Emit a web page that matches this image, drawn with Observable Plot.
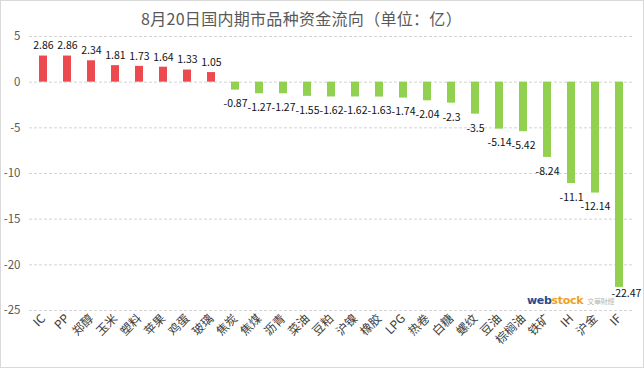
<!DOCTYPE html>
<html>
<head>
<meta charset="utf-8">
<script src="https://cdn.jsdelivr.net/npm/d3@7"></script>
<script src="https://cdn.jsdelivr.net/npm/@observablehq/plot@0.6"></script>
<style>
  body { margin: 0; background: #fff; }
  #wrap { position: relative; width: 642px; height: 366px; border: 1px solid #d9d9d9; background: #fff; overflow: hidden; font-family: "Noto Sans CJK SC", sans-serif; }
  #title { position: absolute; left: 140px; top: 6px; white-space: nowrap; font-size: 16px; letter-spacing: 0.3px; line-height: 22px; color: #595959; z-index: 2; }
  #logo { position: absolute; left: 526px; top: 293px; font-family: "DejaVu Sans", sans-serif; font-size: 11px; font-weight: bold; letter-spacing: -0.3px; z-index: 2; white-space: nowrap; }
  #logo .a { color: #2c4a8c; }
  #logo .b { color: #f0a020; }
  #logo .c { color: #b8b8b8; font-weight: normal; font-size: 7px; font-family: "Noto Sans CJK SC"; margin-left: 4px; }
  #chart { position: absolute; left: 0; top: 0; }
</style>
</head>
<body>
<div id="wrap">
  <div id="chart"></div>
  <div id="title">8月20日国内期市品种资金流向（单位：亿）</div>
  <div id="logo"><span class="a">web</span><span class="b">stock</span><span class="c">文華財經</span></div>
</div>
<script>
const categories = ["IC","PP","郑醇","玉米","塑料","苹果","鸡蛋","玻璃","焦炭","焦煤","沥青","菜油","豆粕","沪镍","橡胶","LPG","热卷","白糖","螺纹","豆油","棕榈油","铁矿","IH","沪金","IF"];
const values = [2.86,2.86,2.34,1.81,1.73,1.64,1.33,1.05,-0.87,-1.27,-1.27,-1.55,-1.62,-1.62,-1.63,-1.74,-2.04,-2.3,-3.5,-5.14,-5.42,-8.24,-11.1,-12.14,-22.47];
const yTicks = [5,0,-5,-10,-15,-20,-25];

const data = categories.map((c, i) => ({name: c, v: values[i]}));
const pos = data.filter(d => d.v >= 0);
const neg = data.filter(d => d.v < 0 && d.v > -20);
const deep = data.filter(d => d.v <= -20);

const chart = Plot.plot({
  width: 642,
  height: 366,
  marginTop: 35,
  marginBottom: 57,
  marginLeft: 28,
  marginRight: 9,
  style: {fontFamily: "'Noto Sans CJK SC', sans-serif", fontSize: "11px", color: "#595959", background: "#fff", overflow: "visible"},
  x: {domain: categories, paddingInner: 0.66, paddingOuter: 0.33, align: 0.5, label: null},
  y: {domain: [-25, 5], ticks: yTicks, label: null},
  marks: [
    Plot.ruleY(yTicks, {stroke: "#d4d4d4", strokeDasharray: "3,2", strokeWidth: 1}),
    Plot.barY(data, {x: "name", y: "v", fill: d => d.v >= 0 ? "#ED4A50" : "#92D050"}),
    Plot.text(pos, {x: "name", y: "v", text: d => String(d.v), dy: -10, fill: "#111", fontSize: 10.5}),
    Plot.text(neg, {x: "name", y: "v", text: d => String(d.v), dy: 14, fill: "#111", fontSize: 10.5}),
    Plot.text(deep, {x: "name", y: -21.6, text: d => String(d.v), dy: 14, dx: 7, fill: "#111", fontSize: 10.5}),
    Plot.axisY({ticks: yTicks, tickSize: 0, tickPadding: 9, fontSize: 11.5, fill: "#595959", tickFormat: d => String(d)}),
    Plot.axisX({tickSize: 0, tickPadding: 6, tickRotate: -45, fontSize: 12, fill: "#404040"})
  ]
});
document.getElementById("chart").appendChild(chart);
</script>
</body>
</html>
